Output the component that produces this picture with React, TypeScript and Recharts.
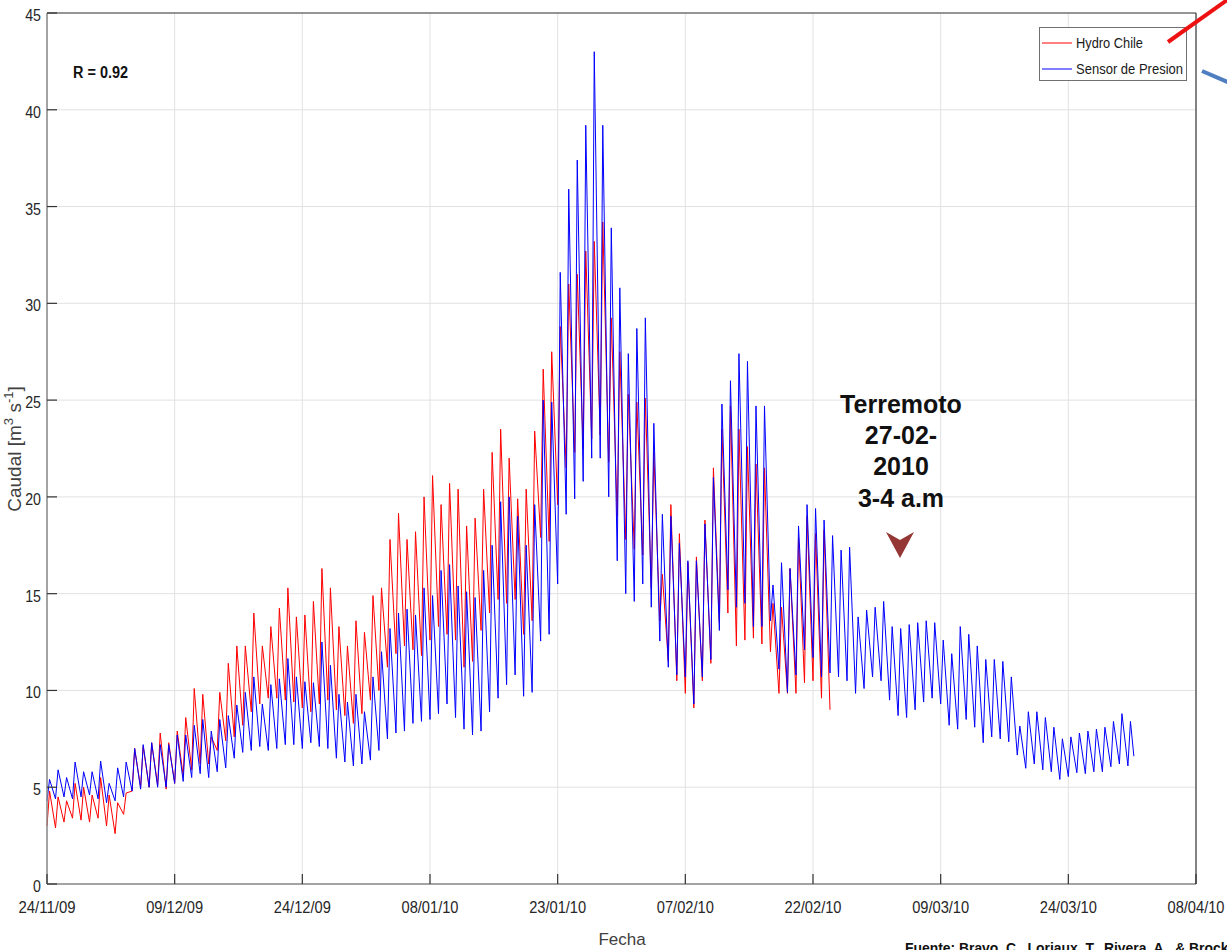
import { CartesianGrid, Legend, Line, LineChart, XAxis, YAxis } from "recharts";

// Daily minimum / maximum discharge (m3/s), one entry per day starting 24/11/2009.
const hydroChileLow = [
  3.0, 2.9, 3.2, 3.4, 3.3, 3.2, 3.4, 3.0, 2.6, 3.6, 4.8, 5.0, 5.0, 5.1, 4.9, 5.2, 5.6, 5.9, 6.2,
  6.2, 6.9, 7.4, 7.6, 8.2, 8.9, 9.3, 9.6, 9.6, 9.5, 9.4, 9.1, 8.9, 9.3, 9.5, 9.0, 8.7, 8.3,
  8.8, 9.5, 10.0, 11.2, 11.9, 12.3, 12.1, 11.8, 12.6, 13.3, 12.9, 12.6, 11.2, 11.5, 13.1, 14.0, 14.7, 14.5,
  14.7, 12.9, 13.6, 17.9, 17.7, 19.6, 21.5, 22.3, 22.5, 23.0, 23.2, 21.8, 19.0, 17.8, 17.3, 17.0, 15.3, 13.6, 11.5,
  10.5, 9.85, 9.1, 10.5, 11.4, 13.5, 14.0, 12.3, 12.6, 12.7, 12.4, 12.0, 9.85, 9.85, 9.85, 10.4, 10.5, 9.6,
  9.0,
];
const hydroChileHigh = [
  4.8, 4.5, 4.3, 5.2, 5.0, 4.6, 5.5, 4.6, 4.2, 4.7, 7.0, 7.1, 7.3, 7.8, 7.3, 7.9, 8.6, 10.1, 9.8,
  7.6, 9.9, 11.4, 12.3, 12.3, 14.0, 12.3, 13.3, 14.25, 15.3, 13.8, 13.9, 14.6, 16.3, 15.3, 13.3, 12.3, 13.6,
  13.0, 14.9, 15.3, 17.8, 19.15, 17.8, 18.2, 20.0, 21.1, 19.6, 20.7, 20.4, 18.5, 18.9, 20.4, 22.3, 23.5, 22.0,
  19.9, 20.4, 23.4, 26.6, 27.5, 28.8, 31.0, 31.5, 32.7, 33.2, 34.2, 29.25, 27.5, 25.3, 24.9, 25.1, 22.3, 16.0, 19.6,
  18.1, 16.6, 16.9, 18.8, 21.5, 23.5, 24.7, 23.5, 22.6, 21.7, 21.5, 14.5, 14.3, 16.3, 17.9, 19.0, 18.1, 18.3,
];

const sensorLow = [
  4.3, 4.4, 4.5, 4.4, 4.5, 4.6, 4.4, 4.2, 4.3, 4.5, 4.8, 4.9, 5.0, 5.0, 5.0, 5.2, 5.3, 5.5, 5.7,
  5.5, 5.8, 6.0, 6.5, 6.8, 6.9, 7.1, 6.9, 7.0, 7.2, 7.2, 7.0, 7.3, 7.1, 7.0, 6.5, 6.3, 6.1,
  6.2, 6.4, 6.9, 7.5, 7.8, 7.9, 8.3, 8.4, 8.5, 8.8, 9.3, 8.6, 8.0, 7.7, 7.9, 8.9, 9.6, 10.3,
  10.8, 9.7, 9.9, 12.55, 12.9, 15.5, 19.1, 19.9, 20.8, 22.0, 22.0, 20.0, 16.7, 15.0, 14.6, 15.5, 14.3, 12.55, 11.2,
  10.8, 10.7, 9.3, 10.7, 11.6, 13.1, 15.2, 14.3, 14.5, 13.3, 13.3, 13.6, 11.1, 9.9, 10.8, 12.1, 11.7, 10.7,
  10.9, 10.7, 10.5, 9.85, 10.1, 10.7, 10.5, 9.5, 8.7, 8.6, 9.0, 9.4, 9.6, 9.3, 8.2, 8.0, 8.5, 8.1,
  7.3, 7.6, 7.5, 7.35, 6.66, 5.98, 6.2, 5.9, 5.8, 5.4, 5.55, 5.75, 5.7, 5.8, 5.8, 6.06, 6.2, 6.1,
];
const sensorHigh = [
  5.4, 5.9, 5.5, 6.3, 5.8, 5.8, 6.35, 5.2, 6.0, 6.3, 7.0, 7.2, 7.3, 7.2, 7.2, 7.7, 7.7, 8.2, 8.5,
  7.9, 8.5, 8.7, 9.25, 9.9, 10.7, 9.3, 10.3, 10.6, 11.65, 10.7, 10.45, 10.4, 12.5, 11.3, 9.8, 9.4, 9.8,
  8.9, 10.7, 12.0, 13.2, 14.0, 14.2, 13.9, 15.3, 14.9, 16.2, 16.5, 15.4, 15.1, 14.8, 16.2, 17.5, 19.75, 20.0,
  19.0, 17.5, 19.6, 25.0, 24.9, 31.6, 35.9, 37.4, 39.2, 43.0, 39.2, 33.9, 30.8, 27.4, 28.7, 29.25, 23.8, 19.1, 19.0,
  17.6, 16.7, 16.7, 18.6, 21.0, 24.8, 26.0, 27.4, 27.0, 24.7, 24.7, 15.45, 16.6, 16.3, 18.5, 19.6, 19.4, 18.8,
  18.0, 17.25, 17.4, 13.8, 14.15, 14.3, 14.6, 13.3, 13.2, 13.4, 13.5, 13.6, 13.5, 12.6, 11.9, 13.3, 12.9, 12.3,
  11.6, 11.6, 11.5, 10.7, 8.16, 8.9, 8.9, 8.6, 8.1, 7.5, 7.6, 7.8, 7.9, 8.0, 8.1, 8.4, 8.8, 8.4,
];
const sensorLastReading = 6.6;

// x axis in days since 24/11/2009
const dateTicks = [0, 15, 30, 45, 60, 75, 90, 105, 120, 135];
const dateLabels = [
  "24/11/09", "09/12/09", "24/12/09", "08/01/10", "23/01/10",
  "07/02/10", "22/02/10", "09/03/10", "24/03/10", "08/04/10",
];
const caudalTicks = [0, 5, 10, 15, 20, 25, 30, 35, 40, 45];

type Reading = { t: number; q: number };

// minimum early in the day, steep rise to the daily peak a few hours later
function dailyCycle(lows: number[], highs: number[]): Reading[] {
  const out: Reading[] = [];
  lows.forEach((low, day) => {
    out.push({ t: day, q: low });
    if (day < highs.length) out.push({ t: day + 0.3, q: highs[day] });
  });
  return out;
}

const hydroChileData = dailyCycle(hydroChileLow, hydroChileHigh);
const sensorData = [...dailyCycle(sensorLow, sensorHigh), { t: sensorHigh.length - 0.3, q: sensorLastReading }];

// no condensed face is installed, so narrow labels are squeezed with textLength
const sans = "'Liberation Sans', Arial, sans-serif";
const tickInk = "#262626";
const digitWidth = 7.9;

type TickProps = { x?: number; y?: number; payload?: { value: number } };

function DateTick({ x = 0, y = 0, payload }: TickProps) {
  const label = dateLabels[dateTicks.indexOf(payload?.value ?? -1)] ?? "";
  return (
    <g>
      <line x1={x} x2={x} y1={y} y2={y - 10} stroke="#333" strokeWidth={1.2} />
      <text
        x={x - 28.5}
        y={y + 29}
        textLength={57}
        lengthAdjust="spacingAndGlyphs"
        fontFamily={sans}
        fontSize={16}
        fill={tickInk}
      >
        {label}
      </text>
    </g>
  );
}

function TopTick({ x = 0, y = 0 }: TickProps) {
  return <line x1={x} x2={x} y1={y} y2={y + 10} stroke="#333" strokeWidth={1.2} />;
}

function CaudalTick({ x = 0, y = 0, payload }: TickProps) {
  const label = String(payload?.value ?? "");
  const w = label.length * digitWidth;
  return (
    <g>
      <line x1={x} x2={x + 10} y1={y} y2={y} stroke="#333" strokeWidth={1.2} />
      <text
        x={x - 6 - w}
        y={y + 8}
        textLength={w}
        lengthAdjust="spacingAndGlyphs"
        fontFamily={sans}
        fontSize={16}
        fill={tickInk}
      >
        {label}
      </text>
    </g>
  );
}

function RightTick({ x = 0, y = 0 }: TickProps) {
  return <line x1={x} x2={x - 10} y1={y} y2={y} stroke="#333" strokeWidth={1.2} />;
}

type LegendEntry = { value?: string; color?: string };

const legendTextWidth: Record<string, number> = { "Hydro Chile": 67, "Sensor de Presion": 107 };

function SeriesLegend({ payload }: { payload?: LegendEntry[] }) {
  return (
    <svg width={148} height={54} style={{ display: "block" }}>
      <rect x={0.5} y={0.5} width={147} height={53} fill="#fff" stroke="#707070" />
      {(payload ?? []).map((entry, i) => (
        <g key={entry.value}>
          <line x1={3} x2={33} y1={16 + i * 26} y2={16 + i * 26} stroke={entry.color} strokeWidth={1} />
          <text
            x={37}
            y={21 + i * 26}
            textLength={legendTextWidth[entry.value ?? ""]}
            lengthAdjust="spacingAndGlyphs"
            fontFamily={sans}
            fontSize={15}
            fill="#1a1a1a"
          >
            {entry.value}
          </text>
        </g>
      ))}
    </svg>
  );
}

export default function App() {
  return (
    <div style={{ position: "absolute", left: 0, top: 0, width: 1227, height: 950, background: "#fff", overflow: "hidden" }}>
      <LineChart width={1227} height={950} margin={{ top: 8, right: 21, bottom: 26, left: 7 }}>
        <CartesianGrid stroke="#e2e2e2" strokeWidth={1} />
        <XAxis
          dataKey="t"
          type="number"
          domain={[0, 135]}
          ticks={dateTicks}
          height={40}
          tickSize={0}
          tickMargin={0}
          tickLine={false}
          axisLine={{ stroke: "#8a8a8a", strokeWidth: 1.5 }}
          tick={<DateTick />}
          interval={0}
        />
        <XAxis
          xAxisId="top"
          orientation="top"
          type="number"
          domain={[0, 135]}
          ticks={dateTicks}
          height={5}
          tickSize={0}
          tickMargin={0}
          tickLine={false}
          axisLine={{ stroke: "#3a3a3a", strokeWidth: 1.2 }}
          tick={<TopTick />}
          interval={0}
        />
        <YAxis
          type="number"
          domain={[0, 45]}
          ticks={caudalTicks}
          width={40}
          tickSize={0}
          tickMargin={0}
          tickLine={false}
          axisLine={{ stroke: "#8a8a8a", strokeWidth: 1.5 }}
          tick={<CaudalTick />}
          interval={0}
        />
        <YAxis
          yAxisId="right"
          orientation="right"
          type="number"
          domain={[0, 45]}
          ticks={caudalTicks}
          width={10}
          tickSize={0}
          tickMargin={0}
          tickLine={false}
          axisLine={{ stroke: "#3a3a3a", strokeWidth: 1.2 }}
          tick={<RightTick />}
          interval={0}
        />
        <Line
          data={hydroChileData}
          dataKey="q"
          name="Hydro Chile"
          type="linear"
          stroke="#ff0000"
          strokeWidth={1}
          dot={false}
          activeDot={false}
          isAnimationActive={false}
        />
        <Line
          data={sensorData}
          dataKey="q"
          name="Sensor de Presion"
          type="linear"
          stroke="#0000ff"
          strokeWidth={1}
          dot={false}
          activeDot={false}
          isAnimationActive={false}
        />
        <Legend
          layout="vertical"
          align="center"
          verticalAlign="middle"
          width={148}
          height={54}
          wrapperStyle={{ left: 1039, top: 27, width: 148, height: 54 }}
          content={(props: { payload?: LegendEntry[] }) => <SeriesLegend payload={props.payload} />}
        />
      </LineChart>

      <svg
        width={1227}
        height={950}
        style={{ position: "absolute", left: 0, top: 0, pointerEvents: "none" }}
      >
        <text
          x={73}
          y={78}
          textLength={55}
          lengthAdjust="spacingAndGlyphs"
          fontFamily={sans}
          fontWeight="bold"
          fontSize={16}
          fill="#111"
        >
          R = 0.92
        </text>

        <g fontFamily={sans} fontWeight="bold" fontSize={25} fill="#111" textAnchor="middle">
          <text x={901} y={413}>Terremoto</text>
          <text x={901} y={444}>27-02-</text>
          <text x={901} y={475}>2010</text>
          <text x={901} y={507}>3-4 a.m</text>
        </g>
        <path d="M886 532 L900 540 L914 532 L900 558 Z" fill="#953735" />

        <text
          transform="translate(21 449) rotate(-90)"
          textAnchor="middle"
          fontFamily={sans}
          fontSize={19}
          fill="#404040"
        >
          Caudal [m
          <tspan dy={-8} fontSize={13}>3</tspan>
          <tspan dy={8}> s</tspan>
          <tspan dy={-8} fontSize={13}>-1</tspan>
          <tspan dy={8}>]</tspan>
        </text>
        <text x={622} y={945} textAnchor="middle" fontFamily={sans} fontSize={17} fill="#404040">
          Fecha
        </text>

        <text
          x={905}
          y={953}
          textLength={345}
          lengthAdjust="spacingAndGlyphs"
          fontFamily={sans}
          fontWeight="bold"
          fontSize={15}
          fill="#111"
        >
          Fuente: Bravo, C., Loriaux, T., Rivera, A., &amp; Brock, B.
        </text>

        <line x1={1168} y1={42} x2={1230} y2={-2} stroke="#ee1111" strokeWidth={4} />
        <line x1={1202} y1={71} x2={1230} y2={83} stroke="#4f7fc0" strokeWidth={4} />
      </svg>
    </div>
  );
}
